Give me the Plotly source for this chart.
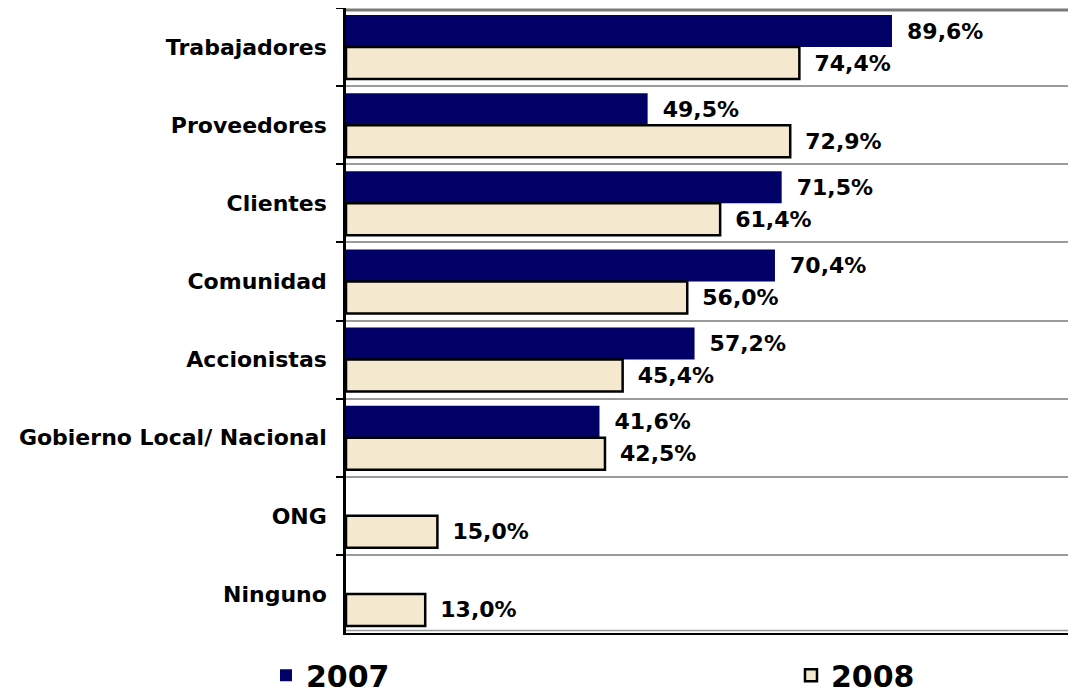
import plotly.graph_objects as go

categories = ["Trabajadores", "Proveedores", "Clientes", "Comunidad", "Accionistas",
              "Gobierno Local/ Nacional", "ONG", "Ninguno"]
values_2007 = [89.6, 49.5, 71.5, 70.4, 57.2, 41.6, None, None]
values_2008 = [74.4, 72.9, 61.4, 56.0, 45.4, 42.5, 15.0, 13.0]

FONT = "DejaVu Sans"
PAD = "\u00a0\u2009"

fig = go.Figure()
fig.add_trace(go.Bar(
    name="2007", y=categories, x=values_2007, orientation="h",
    marker=dict(color="#000066", line=dict(width=0)),
    texttemplate=PAD + "%{x:.1f}%", textposition="outside", cliponaxis=False,
    textfont=dict(family=FONT, size=22, color="black", weight="bold"),
))
fig.add_trace(go.Bar(
    name="2008", y=categories, x=values_2008, orientation="h",
    marker=dict(color="#F4E8CE", line=dict(color="black", width=2.5)),
    texttemplate=PAD + "%{x:.1f}%", textposition="outside", cliponaxis=False,
    textfont=dict(family=FONT, size=22, color="black", weight="bold"),
))

fig.update_layout(
    width=1068, height=690,
    margin=dict(l=338, r=0, t=0, b=65, autoexpand=False),
    paper_bgcolor="white", plot_bgcolor="white",
    barmode="group", bargap=0.18, bargroupgap=0.0,
    separators=",.",
    font=dict(family=FONT, color="black"),
    showlegend=True,
    legend=dict(
        orientation="h", xref="paper", yref="paper",
        x=-0.1096, y=-0.026, xanchor="left", yanchor="top",
        bgcolor="rgba(0,0,0,0)", borderwidth=0,
        font=dict(family=FONT, size=30, color="black", weight="bold"),
        entrywidth=480, entrywidthmode="pixels",
        traceorder="normal",
    ),
    xaxis=dict(range=[0, 119.8], showticklabels=False, showgrid=False,
               zeroline=False, showline=True, linecolor="black", linewidth=2,
               ticks="", fixedrange=True),
    yaxis=dict(autorange="reversed", type="category", tickson="boundaries",
               ticks="outside", ticklen=7, tickwidth=2, tickcolor="black",
               showline=True, linecolor="black", linewidth=2.5,
               showgrid=True, gridcolor="#9a9a9a", gridwidth=2,
               tickfont=dict(family=FONT, size=22, color="black", weight="bold"),
               ticklabelstandoff=12),
    shapes=[
        dict(type="line", xref="paper", yref="paper", x0=0, x1=1, y0=0.997, y1=0.997,
             line=dict(color="#7a7a7a", width=3)),
        dict(type="line", xref="paper", yref="paper", x0=0, x1=1, y0=0.004, y1=0.004,
             line=dict(color="#9a9a9a", width=1.5)),
    ],
)

fig.write_html("out.html")
